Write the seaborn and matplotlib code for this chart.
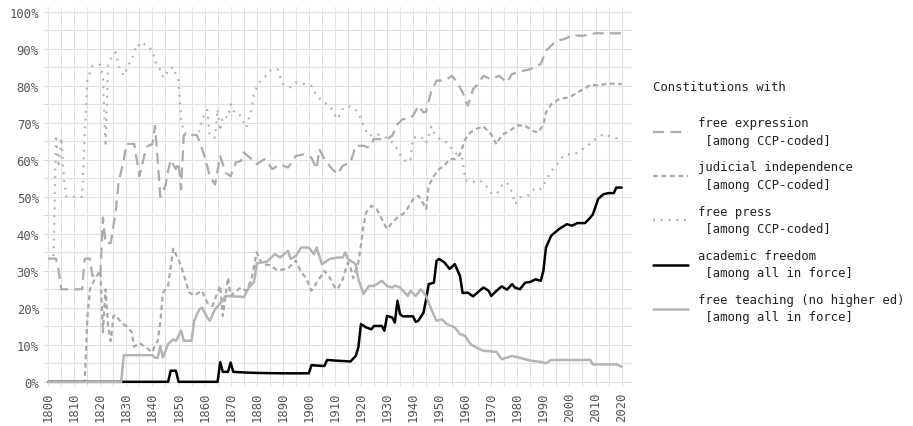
import matplotlib
matplotlib.use("Agg")
import matplotlib.pyplot as plt
from matplotlib.ticker import MultipleLocator, FuncFormatter
import seaborn as sns
import pandas as pd

# ---- data (year, percent) ----
fe_years = [1800, 1803, 1804, 1805, 1813, 1814, 1816, 1817, 1820, 1821, 1822, 1824, 1826, 1827, 1829, 1830,
            1833, 1835, 1837, 1838, 1840, 1841, 1842, 1843, 1845, 1846, 1847, 1849, 1850, 1851, 1852, 1857,
            1858, 1860, 1862, 1864, 1866, 1868, 1870, 1872, 1874, 1875, 1878, 1880, 1883, 1886, 1889, 1892,
            1895, 1898, 1901, 1903, 1904, 1906, 1909, 1911, 1913, 1916, 1918, 1921, 1923, 1925, 1930, 1932,
            1934, 1936, 1938, 1940, 1942, 1944, 1945, 1947, 1949, 1952, 1955, 1957, 1959, 1961, 1963, 1965,
            1967, 1970, 1973, 1976, 1978, 1982, 1985, 1989, 1991, 1995, 1998, 2001, 2005, 2010, 2020]
fe_vals = [33.3, 33.3, 30, 25, 25, 33.3, 33.3, 28.6, 28.6, 44.4, 37.5, 37.5, 46.7, 53.9, 60, 64.3,
           64.3, 55.6, 61.5, 63.6, 64.3, 69.2, 60, 50, 53, 57, 60, 57.5, 59.3, 52, 66.7, 66.7,
           65, 61, 55.6, 53.3, 61, 56.5, 55.6, 59.3, 59.7, 62, 60.2, 58.8, 60.2, 57.5, 58.8, 57.9,
           61, 61.5, 60.6, 57.5, 62.9, 60.2, 57.5, 56.1, 58.4, 59.3, 63.8, 63.8, 63.3, 65.6, 65.6, 66.5,
           69.6, 71, 71, 71.9, 74.6, 72.8, 73, 78.6, 81.4, 81.4, 82.7, 80.9, 78.2, 74.6, 79.1, 80.5,
           82.7, 81.8, 82.7, 80.9, 83.2, 84, 84.5, 85.9, 89.5, 92.2, 92.6, 93.7, 93.5, 94.2, 94.2]

ji_years = [1800, 1814, 1815, 1816, 1818, 1820, 1821, 1822, 1823, 1824, 1825, 1826, 1828, 1830, 1832, 1833,
            1835, 1838, 1840, 1841, 1842, 1843, 1844, 1846, 1848, 1851, 1854, 1856, 1859, 1861, 1863, 1866,
            1867, 1869, 1870, 1874, 1876, 1878, 1880, 1882, 1885, 1888, 1892, 1895, 1897, 1899, 1901, 1903,
            1906, 1908, 1910, 1911, 1913, 1915, 1916, 1917, 1919, 1920, 1921, 1922, 1924, 1926, 1928, 1930,
            1932, 1934, 1937, 1940, 1942, 1943, 1945, 1946, 1948, 1950, 1952, 1954, 1956, 1958, 1960, 1962,
            1964, 1967, 1970, 1972, 1974, 1977, 1980, 1983, 1986, 1988, 1990, 1991, 1993, 1996, 1999, 2001,
            2003, 2006, 2008, 2011, 2015, 2020]
ji_vals = [0, 0, 16.9, 25, 28, 30, 13.4, 25, 15, 11, 17.8, 18, 16, 15, 13.5, 9.5,
           10.5, 9, 8, 10, 11, 16, 24, 26, 36, 31.4, 24.2, 23.3, 24.6, 21.4, 20.5, 26,
           17.8, 28.2, 23.3, 25.5, 24.6, 27.7, 35, 31.9, 31.5, 30.1, 30.6, 32.8, 29.7, 28, 24.6, 26.8,
           30, 28.2, 25.5, 25, 27.7, 32.3, 31, 28, 32.3, 37, 42.2, 45.8, 47.6, 46.7, 44, 41.3,
           43.1, 44.4, 45.8, 49.4, 50.3, 49.4, 46.7, 53, 55.7, 57.5, 58.4, 60.2, 60.2, 61.5, 65.6, 67.4,
           68.3, 69, 66.9, 64.2, 66.7, 67.8, 69.3, 69.2, 67.8, 67.4, 69.6, 72.8, 75, 76.4, 76.8, 77.3,
           78.2, 79.3, 80.3, 80.1, 80.6, 80.5]

fp_years = [1800, 1802, 1803, 1804, 1805, 1806, 1807, 1813, 1814, 1815, 1817, 1820, 1821, 1822, 1823, 1825,
            1826, 1827, 1829, 1831, 1832, 1834, 1836, 1837, 1838, 1840, 1841, 1842, 1844, 1845, 1846, 1848,
            1849, 1850, 1851, 1852, 1854, 1856, 1858, 1859, 1861, 1862, 1864, 1865, 1866, 1867, 1869, 1870,
            1871, 1873, 1875, 1876, 1878, 1879, 1881, 1883, 1885, 1888, 1890, 1893, 1895, 1898, 1901, 1903,
            1905, 1908, 1911, 1913, 1915, 1917, 1919, 1921, 1923, 1926, 1928, 1931, 1934, 1936, 1938, 1939,
            1940, 1943, 1945, 1947, 1948, 1951, 1953, 1956, 1958, 1959, 1960, 1963, 1965, 1967, 1970, 1972,
            1974, 1976, 1978, 1979, 1981, 1984, 1987, 1989, 1991, 1993, 1995, 1997, 1999, 2002, 2004, 2007,
            2010, 2013, 2017, 2020]
fp_vals = [33.3, 33.3, 66.7, 58, 66, 55, 50, 50, 66.5, 81.8, 85.4, 85.7, 81.8, 63.6, 86, 88.6,
           89, 85.4, 82.7, 85.9, 86.8, 91.3, 90.4, 91.3, 90.8, 89.5, 86.4, 86, 82.5, 82.3, 84.5, 85,
           83, 81.4, 71, 67.4, 66.5, 66.9, 67.8, 71, 73.5, 66.5, 66, 73.7, 67.8, 71.9, 71.4, 75,
           73.2, 72.8, 70.1, 68.7, 73.7, 78.2, 80.9, 82.3, 84.1, 84.5, 80.5, 79.6, 80.9, 80.5, 80, 77.4,
           76, 74.6, 71, 73.7, 74.6, 74.1, 72.8, 69.2, 66.5, 67, 66.5, 65.6, 62.9, 60.2, 59.3, 60,
           66, 66.3, 64.5, 69, 67.4, 65.1, 64.7, 62, 60.6, 60.2, 54.5, 53.9, 54.5, 53.9, 51, 50.7,
           53, 53.9, 51.2, 48, 49.8, 50.3, 52.5, 52.1, 54.3, 57, 58.4, 60.6, 61.5, 61.5, 62.4, 63.8,
           65.6, 66.9, 66, 65.6]

af_years = [1800, 1846, 1847, 1849, 1850, 1865, 1866, 1867, 1869, 1870, 1871, 1876, 1880, 1890, 1900, 1901,
            1905, 1906, 1907, 1911, 1916, 1918, 1919, 1920, 1922, 1924, 1925, 1928, 1929, 1930, 1932, 1933,
            1934, 1935, 1936, 1940, 1941, 1942, 1944, 1945, 1946, 1948, 1949, 1950, 1952, 1954, 1956, 1958,
            1959, 1961, 1963, 1965, 1967, 1969, 1970, 1972, 1974, 1976, 1978, 1979, 1981, 1983, 1985, 1987,
            1989, 1990, 1991, 1993, 1996, 1999, 2001, 2003, 2006, 2008, 2009, 2011, 2013, 2015, 2017, 2018,
            2020]
af_vals = [0, 0, 3, 3, 0, 0, 5.3, 2.7, 2.7, 5.2, 2.7, 2.5, 2.4, 2.3, 2.3, 4.5,
           4.3, 4.3, 5.9, 5.7, 5.5, 7, 9.3, 15.6, 14.7, 14.2, 15.1, 15.1, 13.8, 17.8, 17.4, 16,
           21.9, 18.3, 17.7, 17.7, 16.2, 16.5, 18.7, 22.3, 26.4, 26.8, 32.7, 33.2, 32.3, 30.5, 31.8, 28.6,
           24, 24.1, 23.1, 24.3, 25.5, 24.6, 23.2, 24.6, 25.8, 24.9, 26.4, 25.5, 25, 26.8, 27, 27.7,
           27.3, 30, 36.3, 39.5, 41.3, 42.6, 42.2, 42.9, 42.9, 44.4, 45.3, 49.4, 50.7, 51, 51, 52.5,
           52.5]

ft_years = [1800, 1828, 1829, 1840, 1841, 1842, 1843, 1844, 1846, 1848, 1849, 1851, 1852, 1855, 1856, 1858,
            1859, 1861, 1862, 1864, 1866, 1867, 1868, 1874, 1875, 1877, 1879, 1880, 1882, 1884, 1885, 1887,
            1889, 1892, 1893, 1895, 1897, 1900, 1902, 1903, 1905, 1908, 1911, 1913, 1914, 1915, 1918, 1919,
            1921, 1923, 1925, 1928, 1930, 1932, 1933, 1935, 1938, 1939, 1941, 1943, 1945, 1947, 1949, 1951,
            1953, 1956, 1958, 1960, 1962, 1965, 1967, 1972, 1974, 1978, 1982, 1985, 1989, 1991, 1993, 2008,
            2009, 2018, 2020]
ft_vals = [0, 0, 7.2, 7.2, 6.5, 6.5, 9.7, 6.6, 10.2, 11.5, 11, 13.8, 11.1, 11.1, 16.5, 19.6,
           20.1, 17.4, 16.5, 19.6, 21.2, 22, 23.2, 23, 22.8, 25.5, 27, 32, 32.3, 32.5, 33.2, 34.5,
           33.6, 35.4, 33.2, 34, 36.3, 36.3, 34.5, 36.3, 31.8, 33.2, 33.6, 33.6, 35, 33.2, 31.8, 27.7,
           23.7, 25.9, 25.9, 27.3, 25.9, 25.5, 26, 25.5, 23.2, 24.6, 23.2, 25, 23.2, 19.6, 16.5, 16.9,
           15.6, 14.7, 12.9, 12.4, 10.2, 9, 8.4, 8.1, 6.1, 7, 6.3, 5.7, 5.4, 5, 5.9, 5.9,
           4.7, 4.7, 4.1]

labels = ["free expression\n [among CCP-coded]",
          "judicial independence\n [among CCP-coded]",
          "free press\n [among CCP-coded]",
          "academic freedom\n [among all in force]",
          "free teaching (no higher ed)\n [among all in force]"]
series = [(fe_years, fe_vals), (ji_years, ji_vals), (fp_years, fp_vals),
          (af_years, af_vals), (ft_years, ft_vals)]

styles = [dict(color="#ababab", linewidth=1.6, linestyle=(0, (5, 2.8))),
          dict(color="#a9a9a9", linewidth=1.6, linestyle=(0, (2.2, 1.6))),
          dict(color="#b3b3b3", linewidth=1.6, linestyle=(0, (0.9, 2.6))),
          dict(color="#000000", linewidth=1.8, linestyle="-"),
          dict(color="#b4b4b4", linewidth=1.8, linestyle="-")]

sns.set_theme(style="white")
plt.rcParams["font.family"] = ["DejaVu Sans Mono", "DejaVu Sans"]

fig = plt.figure(figsize=(9.13, 4.27), dpi=100)
ax = fig.add_axes([43 / 913, 39 / 427, 589 / 913, 380 / 427])

for (yrs, vals), lab, st in zip(series, labels, styles):
    df = pd.DataFrame({"year": yrs, "pct": vals})
    sns.lineplot(data=df, x="year", y="pct", ax=ax, label=lab, **st)

ax.set_xlim(1798, 2024)
ax.set_ylim(-1.4, 101.3)
ax.xaxis.set_major_locator(MultipleLocator(10))
ax.xaxis.set_minor_locator(MultipleLocator(5))
ax.yaxis.set_major_locator(MultipleLocator(10))
ax.yaxis.set_minor_locator(MultipleLocator(5))
ax.yaxis.set_major_formatter(FuncFormatter(lambda v, p: f"{int(round(v))}%"))
ax.grid(True, which="both", color="#e1e1e1", linewidth=0.8)
ax.set_axisbelow(True)
for s in ax.spines.values():
    s.set_visible(False)
ax.set_xlabel("")
ax.set_ylabel("")
ax.tick_params(axis="both", which="both", length=0, labelsize=8.8, labelcolor="#555555", pad=3)
ax.tick_params(axis="x", labelrotation=90)

leg = ax.legend(title="Constitutions with", loc="upper left", bbox_to_anchor=(1.027, 0.822),
                frameon=False, borderaxespad=0, fontsize=8.8, title_fontsize=8.8,
                handlelength=2.9, handletextpad=0.8, labelspacing=1.12, alignment="left")
leg._legend_box.sep = 17
for t in leg.get_texts():
    t.set_color("#222222")
    t.set_linespacing(1.45)
leg.get_title().set_color("#222222")

fig.savefig("out.png", dpi=100)
